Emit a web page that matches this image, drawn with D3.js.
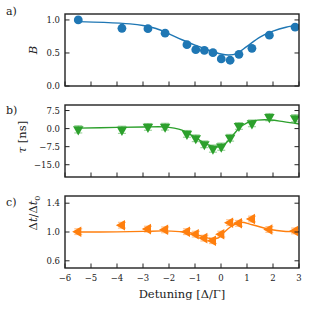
<!DOCTYPE html>
<html>
<head>
<meta charset="utf-8">
<script src="https://d3js.org/d3.v7.min.js"></script>
<style>
  body { margin: 0; background: #fff; }
  text { font-family: "DejaVu Serif", serif; fill: #222; }
</style>
</head>
<body>
<script>
// measured detunings (same for all three panels)
var detuning = [-5.49, -3.81, -2.81, -2.15, -1.31, -0.97, -0.64, -0.31, 0.01, 0.35, 0.69, 1.19, 1.86, 2.85];

// a) B
var bVals = [1.0, 0.874, 0.868, 0.80, 0.626, 0.55, 0.54, 0.505, 0.41, 0.39, 0.48, 0.57, 0.77, 0.89];
var bFitX = [-5.5, -4.5, -3.5, -3, -2.5, -2, -1.5, -1, -0.5, 0, 0.3, 0.6, 1, 1.5, 2, 2.5, 3];
var bFitY = [0.975, 0.963, 0.94, 0.915, 0.87, 0.79, 0.70, 0.62, 0.545, 0.485, 0.47, 0.49, 0.6, 0.74, 0.83, 0.89, 0.925];

// b) tau [ns]
var tauVals = [-0.3, -0.5, 0.7, 0.8, -2.2, -4.0, -6.5, -8.3, -7.5, -3.8, 1.1, 2.2, 4.75, 4.3];
var tauErr = [1.5, 1.5, 1.4, 1.4, 1.4, 1.4, 1.4, 1.5, 1.5, 1.4, 1.4, 1.4, 1.5, 1.5];
var tauFitX = [-5.5, -4, -3, -2.2, -1.8, -1.5, -1.2, -0.9, -0.6, -0.3, -0.1, 0.1, 0.35, 0.7, 1, 1.4, 1.9, 2.4, 3];
var tauFitY = [0.2, 0.5, 0.65, 0.7, 0.2, -0.6, -2.3, -4.3, -6.2, -7.4, -7.6, -6.8, -4.2, 0.2, 2.4, 3.5, 3.6, 2.9, 1.9];

// c) dt/dt0
var ratioVals = [1.005, 1.094, 1.04, 1.03, 1.005, 0.97, 0.915, 0.88, 0.97, 1.13, 1.12, 1.18, 1.035, 1.015];
var ratioErr = [0.04, 0.04, 0.04, 0.04, 0.04, 0.04, 0.04, 0.04, 0.04, 0.04, 0.04, 0.04, 0.04, 0.04];
var ratioFitX = [-5.5, -4, -3, -2.2, -1.6, -1.2, -0.9, -0.6, -0.3, -0.1, 0.1, 0.4, 0.75, 1.2, 1.9, 2.4, 3];
var ratioFitY = [1.0, 1.002, 1.008, 1.015, 1.005, 0.99, 0.96, 0.925, 0.905, 0.92, 0.99, 1.08, 1.135, 1.1, 1.035, 1.01, 1.005];

var xTicks = [-6, -5, -4, -3, -2, -1, 0, 1, 2, 3];

var W = 316, H = 316;
var svg = d3.select("body").append("svg").attr("width", W).attr("height", H);

var x = d3.scaleLinear().domain([-6, 3]).range([65, 299]);

var panels = [
  { id: "a", label: "a)", top: 14, bottom: 86, domain: [0, 1.09], ticks: [0, 0.5, 1.0], fmt: d3.format(".1f"),
    vals: bVals, err: null, fx: bFitX, fy: bFitY, color: "#1f77b4", marker: "circle", labelY: 15, ylabY: 50, ylabX: 37 },
  { id: "b", label: "b)", top: 105, bottom: 177, domain: [-20.1, 9.8], ticks: [-15, -7.5, 0, 7.5], fmt: d3.format(".1f"),
    vals: tauVals, err: tauErr, fx: tauFitX, fy: tauFitY, color: "#2ca02c", marker: "down", labelY: 114, ylabY: 137, ylabX: 26 },
  { id: "c", label: "c)", top: 196, bottom: 268, domain: [0.5, 1.5], ticks: [0.6, 1.0, 1.4], fmt: d3.format(".1f"),
    vals: ratioVals, err: ratioErr, fx: ratioFitX, fy: ratioFitY, color: "#ff7f0e", marker: "left", labelY: 206, ylabY: 213, ylabX: 37 }
];

panels.forEach(function(p, i) {
  var y = d3.scaleLinear().domain(p.domain).range([p.bottom, p.top]);
  var g = svg.append("g");

  g.append("clipPath").attr("id", "clip-" + p.id)
    .append("rect").attr("x", x.range()[0]).attr("y", p.top)
    .attr("width", x.range()[1] - x.range()[0]).attr("height", p.bottom - p.top);

  var plot = g.append("g").attr("clip-path", "url(#clip-" + p.id + ")");

  // fit line
  var fit = p.fx.map(function(v, k) { return [v, p.fy[k]]; });
  plot.append("path").datum(fit)
    .attr("fill", "none").attr("stroke", p.color).attr("stroke-width", 1.4)
    .attr("d", d3.line().x(function(d) { return x(d[0]); }).y(function(d) { return y(d[1]); })
      .curve(d3.curveCatmullRom));

  var pts = detuning.map(function(v, k) { return { x: v, y: p.vals[k], e: p.err ? p.err[k] : 0 }; });

  // error bars
  if (p.err) {
    var eb = plot.selectAll(".eb").data(pts).enter().append("g")
      .attr("stroke", p.color).attr("stroke-opacity", 0.45).attr("stroke-width", 1.2);
    eb.append("line")
      .attr("x1", function(d) { return x(d.x); }).attr("x2", function(d) { return x(d.x); })
      .attr("y1", function(d) { return y(d.y - d.e); }).attr("y2", function(d) { return y(d.y + d.e); });
    [-1, 1].forEach(function(s) {
      eb.append("line")
        .attr("x1", function(d) { return x(d.x) - 4; }).attr("x2", function(d) { return x(d.x) + 4; })
        .attr("y1", function(d) { return y(d.y + s * d.e); }).attr("y2", function(d) { return y(d.y + s * d.e); });
    });
  }

  // markers
  if (p.marker === "circle") {
    plot.selectAll(".pt").data(pts).enter().append("circle")
      .attr("cx", function(d) { return x(d.x); }).attr("cy", function(d) { return y(d.y); })
      .attr("r", 4.4).attr("fill", p.color);
  } else {
    var rot = p.marker === "down" ? 180 : -90;
    plot.selectAll(".pt").data(pts).enter().append("path")
      .attr("d", d3.symbol().type(d3.symbolTriangle).size(48))
      .attr("transform", function(d) { return "translate(" + x(d.x) + "," + y(d.y) + ") rotate(" + rot + ")"; })
      .attr("fill", p.color);
  }

  // ticks (inward, left/right/bottom)
  var tk = g.append("g").attr("stroke", "#222").attr("stroke-width", 1);
  p.ticks.forEach(function(t) {
    tk.append("line").attr("x1", 65).attr("x2", 69.5).attr("y1", y(t)).attr("y2", y(t));
    tk.append("line").attr("x1", 299).attr("x2", 294.5).attr("y1", y(t)).attr("y2", y(t));
  });
  xTicks.forEach(function(t) {
    tk.append("line").attr("x1", x(t)).attr("x2", x(t)).attr("y1", p.bottom).attr("y2", p.bottom - 4.5);
  });

  // y tick labels
  g.selectAll(".yl").data(p.ticks).enter().append("text")
    .attr("x", 60).attr("y", function(d) { return y(d); }).attr("dy", "0.35em")
    .attr("text-anchor", "end").attr("font-size", 8.5)
    .text(function(d) { return p.fmt(d).replace("-", "\u2212"); });

  // frame
  g.append("rect").attr("x", 65).attr("y", p.top).attr("width", 234).attr("height", p.bottom - p.top)
    .attr("fill", "none").attr("stroke", "#222").attr("stroke-width", 1.4);

  // panel letter
  g.append("text").attr("x", 6).attr("y", p.labelY).attr("font-size", 11).text(p.label);

  // y label
  var yl = g.append("text").attr("transform", "translate(" + p.ylabX + "," + p.ylabY + ") rotate(-90)")
    .attr("text-anchor", "middle").attr("font-size", 11.5);
  if (p.id === "a") {
    yl.append("tspan").attr("font-style", "italic").text("B");
  } else if (p.id === "b") {
    yl.append("tspan").attr("font-style", "italic").text("\u03c4");
    yl.append("tspan").text(" [ns]");
  } else {
    yl.append("tspan").text("\u0394");
    yl.append("tspan").attr("font-style", "italic").text("t");
    yl.append("tspan").text("/\u0394");
    yl.append("tspan").attr("font-style", "italic").text("t");
    yl.append("tspan").attr("font-size", 8).attr("dy", 2.5).text("0");
  }

  // x tick labels on bottom panel only
  if (i === panels.length - 1) {
    g.selectAll(".xl").data(xTicks).enter().append("text")
      .attr("x", function(d) { return x(d); }).attr("y", p.bottom + 13)
      .attr("text-anchor", "middle").attr("font-size", 8.5)
      .text(function(d) { return String(d).replace("-", "\u2212"); });
    g.append("text").attr("x", 182).attr("y", 298).attr("text-anchor", "middle").attr("font-size", 11.5)
      .text("Detuning [\u0394/\u0393]");
  }
});
</script>
</body>
</html>
